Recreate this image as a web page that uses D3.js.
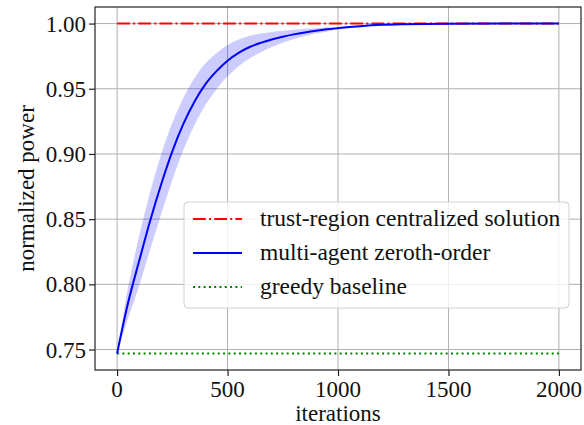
<!DOCTYPE html>
<html>
<head>
<meta charset="utf-8">
<script src="https://cdn.jsdelivr.net/npm/d3@7/dist/d3.min.js"></script>
</head>
<body>
<div id="chart"></div>
<script>
// iterations sampled along the curve
const iters = [0, 50, 100, 150, 200, 250, 300, 350, 400, 450, 500, 550, 600, 650, 700, 750, 800, 850, 900, 950, 1000, 1100, 1200, 1300, 1500, 1750, 2000];
// multi-agent zeroth-order mean
const meanVals = [0.747, 0.786, 0.818, 0.849, 0.877, 0.902, 0.923, 0.940, 0.9535, 0.9635, 0.9715, 0.9775, 0.982, 0.9852, 0.9878, 0.9899, 0.9917, 0.9932, 0.9945, 0.9956, 0.9965, 0.998, 0.999, 0.9995, 0.9999, 1.0, 1.0];
// half width of the shaded band
const spreadVals = [0, 0.012, 0.019, 0.022, 0.023, 0.022, 0.020, 0.018, 0.016, 0.0138, 0.012, 0.0103, 0.0087, 0.0072, 0.0058, 0.0046, 0.0036, 0.0028, 0.0021, 0.0016, 0.0011, 0.0005, 0.0002, 0, 0, 0, 0];
const centralized = 1.0;
const greedy = 0.747;
const xTicks = [0, 500, 1000, 1500, 2000];
const yTicks = [0.75, 0.80, 0.85, 0.90, 0.95, 1.00];
const legendLabels = ['trust-region centralized solution', 'multi-agent zeroth-order', 'greedy baseline'];

const W = 584, H = 425;
const margin = { top: 7, right: 3, bottom: 55, left: 95 };
const width = W - margin.left - margin.right;
const height = H - margin.top - margin.bottom;
const fs = 23;

document.body.style.margin = '0';

const svg = d3.select('#chart').append('svg')
  .attr('width', W)
  .attr('height', H);

const g = svg.append('g')
  .attr('transform', `translate(${margin.left},${margin.top})`);

const x = d3.scaleLinear().domain([-100, 2100]).range([0, width]);
const y = d3.scaleLinear().domain([0.7343, 1.0127]).range([height, 0]);

function label(sel, txt) {
  return sel.append('text')
    .attr('font-family', '"Times New Roman"')
    .attr('font-size', fs)
    .attr('fill', '#111')
    .text(txt);
}

// grid
g.append('g').selectAll('line').data(xTicks).enter().append('line')
  .attr('x1', d => x(d)).attr('x2', d => x(d))
  .attr('y1', 0).attr('y2', height)
  .attr('stroke', '#b0b0b0').attr('stroke-width', 1);
g.append('g').selectAll('line').data(yTicks).enter().append('line')
  .attr('y1', d => y(d)).attr('y2', d => y(d))
  .attr('x1', 0).attr('x2', width)
  .attr('stroke', '#b0b0b0').attr('stroke-width', 1);

const data = iters.map((it, i) => ({ it, m: meanVals[i], s: spreadVals[i] }));

// band
g.append('path')
  .datum(data)
  .attr('fill', 'rgba(0,0,255,0.2)')
  .attr('d', d3.area()
    .x(d => x(d.it))
    .y0(d => y(d.m - d.s))
    .y1(d => y(Math.min(d.m + d.s, 1.0)))
    .curve(d3.curveMonotoneX));

// greedy baseline
g.append('line')
  .attr('x1', x(0)).attr('x2', x(2000))
  .attr('y1', y(greedy)).attr('y2', y(greedy))
  .attr('stroke', '#008000').attr('stroke-width', 2)
  .attr('stroke-dasharray', '2,3.3');

// centralized solution
g.append('line')
  .attr('x1', x(0)).attr('x2', x(2000))
  .attr('y1', y(centralized)).attr('y2', y(centralized))
  .attr('stroke', '#ff0000').attr('stroke-width', 2)
  .attr('stroke-dasharray', '12.8,3.2,2,3.2');

// mean curve
g.append('path')
  .datum(data)
  .attr('fill', 'none')
  .attr('stroke', '#0000ff')
  .attr('stroke-width', 2)
  .attr('d', d3.line()
    .x(d => x(d.it))
    .y(d => y(d.m))
    .curve(d3.curveMonotoneX));

// frame
g.append('rect')
  .attr('width', width).attr('height', height)
  .attr('fill', 'none').attr('stroke', '#222').attr('stroke-width', 1.2);

// ticks: axis for positions, labels drawn as plain text
const xAxis = g.append('g')
  .attr('transform', `translate(0,${height})`)
  .call(d3.axisBottom(x).tickValues(xTicks).tickSize(6).tickFormat(''));
const yAxis = g.append('g')
  .call(d3.axisLeft(y).tickValues(yTicks).tickSize(6).tickFormat(''));
[xAxis, yAxis].forEach(a => {
  a.select('.domain').remove();
  a.selectAll('.tick line').attr('stroke', '#222').attr('stroke-width', 1.2);
  a.selectAll('.tick text').remove();
});
xTicks.forEach(t => {
  label(g, String(t))
    .attr('x', x(t)).attr('y', height + 27)
    .attr('text-anchor', 'middle');
});
yTicks.forEach(t => {
  label(g, d3.format('.2f')(t))
    .attr('x', -9).attr('y', y(t) + 8)
    .attr('text-anchor', 'end');
});

// axis labels
label(svg, 'iterations')
  .attr('x', margin.left + width / 2)
  .attr('y', 421)
  .attr('text-anchor', 'middle');
label(svg, 'normalized power')
  .attr('transform', `translate(34,${margin.top + height / 2}) rotate(-90)`)
  .attr('text-anchor', 'middle');

// legend
const lg = svg.append('g');
lg.append('rect')
  .attr('x', 184).attr('y', 202)
  .attr('width', 385).attr('height', 106)
  .attr('rx', 4)
  .attr('fill', 'rgba(255,255,255,0.8)')
  .attr('stroke', '#d0d0d0').attr('stroke-width', 1);
const styles = [
  { c: '#ff0000', dash: '12.8,3.2,2,3.2' },
  { c: '#0000ff', dash: null },
  { c: '#008000', dash: '2,3.3' }
];
legendLabels.forEach((lab, i) => {
  const cy = 219 + i * 34;
  lg.append('line')
    .attr('x1', 193).attr('x2', 242)
    .attr('y1', cy).attr('y2', cy)
    .attr('stroke', styles[i].c).attr('stroke-width', 2)
    .attr('stroke-dasharray', styles[i].dash);
  label(lg, lab)
    .attr('x', 260).attr('y', cy + 7)
    .attr('font-size', 23.5);
});
</script>
</body>
</html>
